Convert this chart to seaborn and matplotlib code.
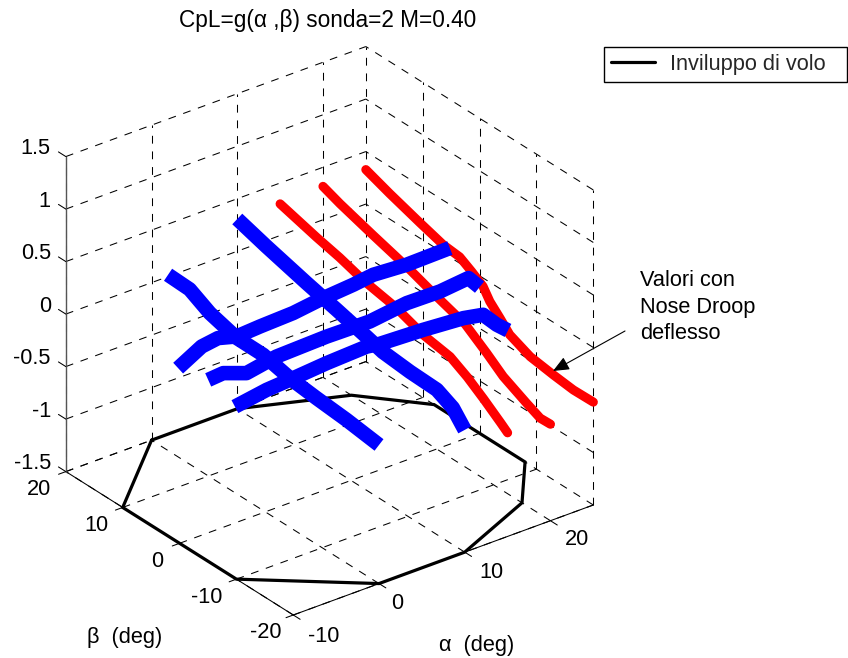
import matplotlib
matplotlib.use("Agg")
import matplotlib.pyplot as plt
import seaborn as sns
from mpl_toolkits.mplot3d import proj3d

alpha_ticks = [-10, 0, 10, 20]
beta_ticks = [-20, -10, 0, 10, 20]
z_ticks = [-1.5, -1, -0.5, 0, 0.5, 1, 1.5]
z_tick_labels = ['-1.5', '-1', '-0.5', '0', '0.5', '1', '1.5']
alpha_lim = (-10, 25)
beta_lim = (-20, 20)
z_lim = (-1.5, 1.5)

env_alpha = [0, 10, 20, 25, 25, 20, 10, 0, -10, -10, 0]
env_beta = [20, 20, 15, 8, -8, -15, -20, -20, -10, 10, 20]

# red: constant alpha, nose droop deflected
red25_beta = [20, 15.8, 10.5, 6.4, 3.5, 1.4, -0.6, -1.8, -3.6, -5.3, -8.9, -13, -16.5, -20]
red25_z = [0.328, 0.243, 0.147, 0.077, 0.06, -0.007, -0.08, -0.183, -0.281, -0.38, -0.466, -0.501, -0.524, -0.52]
red20_beta = [20, 17, 11.2, 5, -0.3, -5, -8.8, -11.7, -15.8, -18.2, -20]
red20_z = [0.318, 0.255, 0.154, 0.052, -0.054, -0.14, -0.287, -0.41, -0.524, -0.585, -0.581]
red15_beta = [20, 13.6, 9.5, 5.1, -0.2, -5.2, -9.9, -12.9, -15.8, -18.8, -20]
red15_z = [0.301, 0.202, 0.147, 0.07, 0.012, -0.087, -0.133, -0.224, -0.335, -0.46, -0.513]

# blue: constant alpha
blue10_beta = [20, 14.9, 7.8, 2.5, -2.75, -5.6, -10.4, -15.1, -17.9, -20]
blue10_z = [0.307, 0.221, 0.113, 0.039, -0.039, -0.085, -0.111, -0.121, -0.197, -0.336]
blue0_beta = [17.1, 13.3, 9.75, 5.05, 0.37, -4.33, -9, -14.3, -20]
blue0_z = [0.174, 0.165, 0.06, -0.015, -0.017, -0.079, -0.109, -0.136, -0.18]

# blue: constant beta
blueb5_alpha = [-6.85, -4.1, -2.2, 0, 2.7, 6.57, 9.7, 13.6, 15.9, 19.8, 24.85]
blueb5_z = [-0.097, 0.027, 0.05, 0.0, 0.014, 0.026, 0.06, 0.086, 0.111, 0.09, 0.098]
blueb0_alpha = [-6.66, -4.9, -2.2, 1.3, 7.15, 12.2, 16.5, 20.4, 23.7, 25]
blueb0_z = [-0.044, -0.032, -0.113, -0.06, -0.045, -0.052, -0.006, -0.011, 0.017, -0.108]
bluebm5_alpha = [-6.86, -3.16, -0.06, 3.84, 8.5, 10.06, 15.1, 19.8, 22.1, 23.7, 25]
bluebm5_z = [-0.122, -0.073, -0.055, -0.028, -0.01, -0.03, -0.048, -0.077, -0.114, -0.257, -0.35]

sns.set_theme(style="white")
plt.rcParams['font.family'] = ['Liberation Sans', 'DejaVu Sans']
FS = 15.7
W, H = 848, 658

fig = plt.figure(figsize=(W / 100, H / 100), dpi=100, facecolor='white')
S0 = 600
ax = fig.add_axes([100 / W, 20 / H, S0 / W, S0 / H], projection='3d', proj_type='ortho',
                  computed_zorder=False)
ax.set_xlim(*alpha_lim); ax.set_ylim(*beta_lim); ax.set_zlim(*z_lim)
ax.view_init(elev=28.74, azim=-127.33)
ax.set_box_aspect((377.3, 375.1, 359.3))
ax.set_axis_off()
ax.patch.set_alpha(0)


def to_px(a, b, z):
    x, y, _ = proj3d.proj_transform(a, b, z, ax.get_proj())
    return ax.transData.transform((x, y))


# fit the axes so that the front and right floor corners land where they should
fig.canvas.draw()
p0 = to_px(alpha_lim[0], beta_lim[0], z_lim[0])
p1 = to_px(alpha_lim[1], beta_lim[0], z_lim[0])
S = S0 * 300.0 / (p1[0] - p0[0])
u = (p0[0] - 100) / S0
v = (p0[1] - 20) / S0
L = 293.3 - S * u
B = (H - 615.0) - S * v
ax.set_position([L / W, B / H, S / W, S / H])
ax.set_clip_on(False)
fig.canvas.draw()

GRID = dict(color='black', lw=0.75, ls=(0, (7.5, 7.5)), zorder=1, clip_on=False)
THIN = dict(color='black', lw=0.75, zorder=2, clip_on=False)
a0, a1 = alpha_lim
b0, b1 = beta_lim
z0, z1 = z_lim

for a in alpha_ticks:
    ax.plot([a, a], [b0, b1], [z0, z0], **GRID)
    ax.plot([a, a], [b1, b1], [z0, z1], **GRID)
for b in beta_ticks:
    ax.plot([a0, a1], [b, b], [z0, z0], **GRID)
    ax.plot([a1, a1], [b, b], [z0, z1], **GRID)
for z in z_ticks:
    ax.plot([a0, a1], [b1, b1], [z, z], **GRID)
    ax.plot([a1, a1], [b0, b1], [z, z], **GRID)

ax.plot([a0, a0], [b0, b1], [z0, z0], **THIN)
ax.plot([a0, a1], [b0, b0], [z0, z0], **THIN)
ax.plot([a0, a0], [b1, b1], [z0, z1], color='#555555', lw=1.0, zorder=2)
for a in alpha_ticks:
    ax.plot([a, a], [b0, b0 - 1.2], [z0, z0], **THIN)
for b in beta_ticks:
    ax.plot([a0, a0 - 0.85], [b, b], [z0, z0], **THIN)
for z in z_ticks:
    ax.plot([a0, a0], [b1, b1 + 1.3], [z, z], **THIN)


def fx(px):
    return px / W


def fy(py):
    return 1 - py / H


def label(a, b, z, s, dx, dy, **kw):
    p = to_px(a, b, z)
    fig.text((p[0] + dx) / W, (p[1] - dy) / H, s, fontsize=FS, color='black', **kw)


for a, dx, dy in zip(alpha_ticks, [30, 18, 27, 27], [21, 20, 20, 19]):
    label(a, b0, z0, str(a), dx, dy, ha='center', va='center')
for b, dx in zip(beta_ticks, [-28, -30, -22, -26, -27]):
    label(a0, b, z0, str(b), dx, 18, ha='center', va='center')
for z, s in zip(z_ticks, z_tick_labels):
    label(a0, b1, z, s, -15, -8, ha='right', va='center')

line_env, = ax.plot(env_alpha, env_beta, [z0] * len(env_alpha), color='black', lw=2.3,
                    zorder=3, solid_joinstyle='miter', label='Inviluppo di volo')

RED = dict(color='#ff0000', lw=6.6, zorder=4, solid_capstyle='round', solid_joinstyle='round')
ax.plot([15] * len(red15_beta), red15_beta, red15_z, **RED)
ax.plot([20] * len(red20_beta), red20_beta, red20_z, **RED)
ax.plot([25] * len(red25_beta), red25_beta, red25_z, **RED)

BLUE = dict(color='#0000ff', lw=10.5, zorder=5, solid_capstyle='butt', solid_joinstyle='round')
ax.plot([0] * len(blue0_beta), blue0_beta, blue0_z, **BLUE)
ax.plot([10] * len(blue10_beta), blue10_beta, blue10_z, **BLUE)
ax.plot(blueb5_alpha, [5] * len(blueb5_alpha), blueb5_z, **BLUE)
ax.plot(blueb0_alpha, [0] * len(blueb0_alpha), blueb0_z, **BLUE)
ax.plot(bluebm5_alpha, [-5] * len(bluebm5_alpha), bluebm5_z, **BLUE)

fig.text(fx(328), fy(21), 'CpL=g(α ,β) sonda=2 M=0.40', fontsize=FS + 0.6, ha='center', va='center', color='black')
fig.text(fx(125), fy(637), 'β  (deg)', fontsize=FS, ha='center', va='center', color='black')
fig.text(fx(477), fy(645), 'α  (deg)', fontsize=FS, ha='center', va='center', color='black')

fig.text(fx(640), fy(307), 'Valori con\nNose Droop\ndeflesso', fontsize=FS, ha='left', va='center',
         linespacing=1.35, color='black')
ax.annotate('', xy=(fx(553), fy(371)), xycoords='figure fraction',
            xytext=(fx(625), fy(331)), textcoords='figure fraction',
            arrowprops=dict(arrowstyle='-|>,head_length=0.7,head_width=0.3', color='black', lw=0.8,
                            shrinkA=0, shrinkB=0, mutation_scale=14), zorder=8)

leg = fig.legend(handles=[line_env], loc='upper left',
                 bbox_to_anchor=(fx(604), fy(80.7), 243 / W, 34 / H),
                 bbox_transform=fig.transFigure, borderaxespad=0, fontsize=FS, fancybox=False,
                 framealpha=1, edgecolor='black', handlelength=2.0, handletextpad=0.7,
                 borderpad=0.32, mode='expand')
leg.get_frame().set_linewidth(1.0)

fig.savefig('out.png', dpi=100, facecolor='white')
